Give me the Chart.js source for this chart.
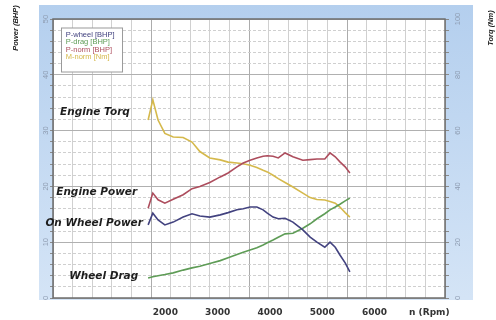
<!DOCTYPE html>
<html>
<head>
  <title>Engine power and torque vs rpm</title>
  <script src="https://cdn.jsdelivr.net/npm/chart.js@4"></script>
  <style>
    body { margin: 0; background: #fff; }
  </style>
</head>
<body>
  <canvas id="myChart" width="496" height="320"></canvas>
  <script>
    // values, one entry per rpm point
    const rpm    = [1670, 1760, 1860, 1990, 2150, 2340, 2510, 2660, 2850, 3050, 3200, 3370, 3490, 3620, 3750, 3870, 3950, 4060, 4160, 4290, 4440, 4630, 4770, 4900, 5050, 5150, 5250, 5340, 5440, 5530];
    const pWheel = [13.1, 15.2, 14.0, 13.1, 13.6, 14.5, 15.1, 14.7, 14.5, 14.9, 15.3, 15.8, 16.0, 16.3, 16.3, 15.8, 15.2, 14.5, 14.2, 14.3, 13.6, 12.2, 10.9, 10.0, 9.1, 10.0, 9.1, 7.7, 6.3, 4.7];
    const pDrag  = [3.6, 3.8, 4.0, 4.2, 4.5, 5.0, 5.4, 5.7, 6.2, 6.7, 7.2, 7.8, 8.2, 8.6, 9.0, 9.5, 9.9, 10.4, 10.9, 11.5, 11.6, 12.5, 13.3, 14.2, 15.1, 15.8, 16.3, 16.8, 17.4, 17.9];
    const pNorm  = [16.1, 18.8, 17.6, 17.0, 17.7, 18.5, 19.6, 20.0, 20.7, 21.7, 22.4, 23.5, 24.2, 24.7, 25.1, 25.4, 25.5, 25.4, 25.1, 26.0, 25.3, 24.7, 24.8, 24.9, 24.9, 26.0, 25.3, 24.4, 23.5, 22.4];
    const mNorm  = [63.8, 71.0, 63.8, 59.0, 57.7, 57.5, 55.9, 52.5, 50.2, 49.5, 48.7, 48.4, 48.1, 47.6, 46.8, 45.8, 45.2, 44.0, 42.8, 41.4, 39.8, 37.6, 36.0, 35.3, 35.1, 34.6, 34.0, 32.6, 30.6, 29.0];

    const seriesNames  = ['P-wheel [BHP]', 'P-drag [BHP]', 'P-norm [BHP]', 'M-norm [Nm]'];
    const seriesColors = ['#42427f', '#5e9c56', '#ad4d5d', '#d5b94c'];
    const seriesData   = [pWheel, pDrag, pNorm, mNorm];
    const seriesAxis   = ['y', 'y', 'y', 'y2'];

    const xTicks = [2000, 3000, 4000, 5000, 6000];
    const xUnit = 'n (Rpm)';
    const xUnitAt = 7050;
    const leftTitle = 'Power (BHP)';
    const rightTitle = 'Torq (Nm)';

    // hand written notes on the scan (right end of text, rpm / BHP)
    const noteText  = ['Engine Torq', 'Engine Power', 'On Wheel Power', 'Wheel Drag'];
    const noteRpm   = [1320, 1460, 1570, 1480];
    const notePower = [33.3, 19.0, 13.4, 3.9];

    // blue frame + white plot, border on top of the grid
    const frame = {
      id: 'frame',
      beforeDraw(chart) {
        const {ctx, chartArea: a} = chart;
        ctx.save();
        const g = ctx.createLinearGradient(0, a.top - 14, 0, a.bottom);
        g.addColorStop(0, '#b4cfee');
        g.addColorStop(1, '#d4e4f6');
        ctx.fillStyle = g;
        ctx.fillRect(a.left - 14, a.top - 14, a.width + 42, a.height + 16);
        ctx.fillStyle = '#fff';
        ctx.fillRect(a.left, a.top, a.width, a.height);
        ctx.restore();
      },
      beforeDatasetsDraw(chart) {
        const {ctx, chartArea: a} = chart;
        ctx.save();
        ctx.strokeStyle = '#6e6e6e';
        ctx.lineWidth = 1.5;
        ctx.strokeRect(a.left, a.top, a.width, a.height);
        ctx.restore();
      }
    };

    // legend sits inside the plot, in a white box
    const legendBox = {
      id: 'legendBox',
      afterLayout(chart) {
        const lg = chart.legend, a = chart.chartArea;
        lg.left = a.left + 9;
        lg.top = a.top + 12;
        lg.right = lg.left + lg.width;
        lg.bottom = lg.top + lg.height;
        if (lg._boxed) return;
        lg._boxed = true;
        const draw = lg.draw.bind(lg);
        lg.draw = function () {
          const hb = lg.legendHitBoxes || [];
          if (hb.length) {
            const ctx = chart.ctx;
            const l = Math.min(...hb.map(h => h.left)) - 0.5;
            const t = Math.min(...hb.map(h => h.top)) - 3;
            const r = Math.max(...hb.map(h => h.left + h.width)) + 8;
            const b = Math.max(...hb.map(h => h.top + h.height)) + 11;
            ctx.save();
            ctx.fillStyle = '#fff';
            ctx.fillRect(l, t, r - l, b - t);
            ctx.strokeStyle = '#9a9a9a';
            ctx.lineWidth = 1;
            ctx.strokeRect(l, t, r - l, b - t);
            ctx.restore();
          }
          draw();
        };
      }
    };

    const notes = {
      id: 'notes',
      afterDatasetsDraw(chart) {
        const {ctx, scales: {x, y}} = chart;
        ctx.save();
        ctx.fillStyle = '#1e1e1e';
        ctx.textBaseline = 'middle';
        ctx.textAlign = 'right';
        ctx.font = 'italic bold 10.5px "DejaVu Sans"';
        noteText.forEach((t, i) => {
          ctx.fillText(t, x.getPixelForValue(noteRpm[i]), y.getPixelForValue(notePower[i]));
        });
        // axis titles read bottom-to-top on both sides
        ctx.textAlign = 'center';
        ctx.font = 'italic bold 7.5px "Liberation Sans"';
        [[leftTitle, 16], [rightTitle, 491]].forEach(([t, px]) => {
          ctx.save();
          ctx.translate(px, 28);
          ctx.rotate(-Math.PI / 2);
          ctx.fillText(t, 0, 0);
          ctx.restore();
        });
        ctx.restore();
      }
    };

    const tickFont = {family: 'Liberation Sans', size: 7.5};

    var ctx = document.getElementById('myChart').getContext('2d');
    var myChart = new Chart(ctx, {
      type: 'line',
      data: {
        datasets: seriesNames.map((name, i) => ({
          label: name,
          data: rpm.map((r, k) => ({x: r, y: seriesData[i][k]})),
          xAxisID: 'x',
          yAxisID: seriesAxis[i],
          borderColor: seriesColors[i],
          backgroundColor: seriesColors[i],
          borderWidth: 1.6,
          pointRadius: 0,
          tension: 0
        }))
      },
      options: {
        responsive: false,
        animation: false,
        devicePixelRatio: 1,
        layout: { padding: {top: 19, left: 0, right: 0, bottom: 0} },
        scales: {
          x: {
            type: 'linear',
            position: 'bottom',
            min: -150,
            max: 7350,
            afterBuildTicks: s => { s.ticks = xTicks.concat([xUnitAt]).map(v => ({value: v})); },
            afterFit: s => { s.height = 22; },
            grid: { display: false },
            border: { display: false },
            ticks: {
              autoSkip: false,
              maxRotation: 0,
              padding: 1,
              color: '#333',
              font: {family: 'DejaVu Sans', size: 9, weight: 'bold'},
              callback: v => v === xUnitAt ? xUnit : String(v)
            }
          },
          xg: {
            type: 'linear',
            position: 'bottom',
            min: 0,
            max: 20,
            afterFit: s => { s.height = 0; },
            ticks: { display: false, stepSize: 1 },
            grid: {
              z: -1,
              drawTicks: false,
              lineWidth: 1,
              color: c => (c.tick && c.tick.value % 5 === 0) ? '#acacac' : '#d0d0d0'
            },
            border: { display: false }
          },
          y: {
            position: 'left',
            min: 0,
            max: 50,
            afterFit: s => { s.width = 53; },
            ticks: {
              stepSize: 2,
              autoSkip: false,
              minRotation: 90,
              maxRotation: 90,
              crossAlign: 'center',
              padding: 0,
              color: '#8d9bb0',
              font: tickFont,
              callback: v => v % 10 === 0 ? v : ''
            },
            grid: {
              z: -1,
              lineWidth: 1,
              tickLength: 3,
              tickColor: '#8a8a8a',
              color: c => (c.tick && c.tick.value % 10 === 0) ? '#b0b0b0' : '#cfcfcf'
            },
            border: {
              display: false,
              dash: c => (c.tick && c.tick.value % 10 !== 0) ? [3, 2] : []
            }
          },
          y2: {
            position: 'right',
            min: 0,
            max: 100,
            afterFit: s => { s.width = 51; },
            ticks: {
              stepSize: 4,
              autoSkip: false,
              minRotation: 90,
              maxRotation: 90,
              crossAlign: 'center',
              padding: 3,
              color: '#8d9bb0',
              font: tickFont,
              callback: v => v % 20 === 0 ? v : ''
            },
            grid: {
              z: -1,
              drawOnChartArea: false,
              tickLength: 4,
              tickColor: '#8a8a8a'
            },
            border: { display: false }
          }
        },
        plugins: {
          legend: {
            position: 'chartArea',
            align: 'start',
            labels: {
              boxWidth: 0,
              boxHeight: 7,
              padding: 0,
              font: tickFont,
              generateLabels: chart => chart.data.datasets.map((ds, i) => ({
                text: ds.label,
                fontColor: ds.borderColor,
                fillStyle: 'rgba(0,0,0,0)',
                strokeStyle: 'rgba(0,0,0,0)',
                lineWidth: 0,
                hidden: false,
                datasetIndex: i
              }))
            }
          },
          tooltip: { enabled: false }
        }
      },
      plugins: [frame, legendBox, notes]
    });
  </script>
</body>
</html>
